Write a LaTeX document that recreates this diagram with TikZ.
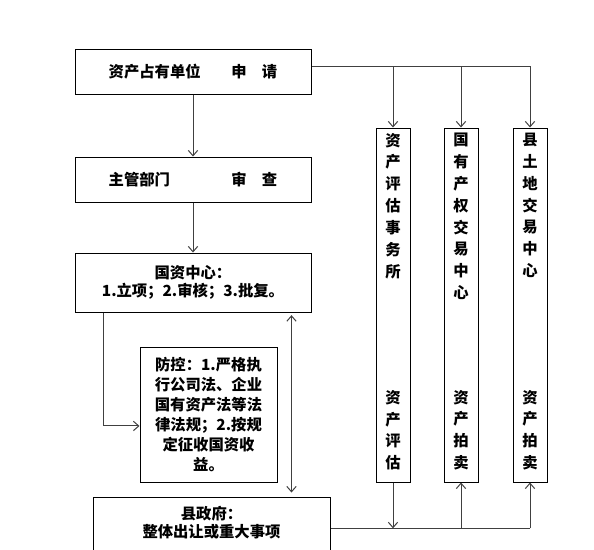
\documentclass[tikz,border=0pt]{standalone}
\usepackage{fontspec}
\newfontfamily\cjk{Noto Sans CJK SC}
\usetikzlibrary{positioning,arrows.meta}
\tikzset{
  flownode/.style = {draw=black, line width=0.75pt, rectangle, inner sep=0pt,
    align=center, font=\cjk\bfseries\fontsize{11.5}{13.5}\selectfont},
  wbox/.style = {flownode, minimum width=177pt, minimum height=33.75pt},% wide step box
  vbox/.style = {flownode, minimum width=25.5pt, minimum height=265.5pt},% tall agency box
  vtext/.style = {align=center, inner sep=0pt,
    font=\cjk\bfseries\fontsize{11.5}{16.4}\selectfont},% text set upright, one char per line
  link/.style = {draw=black!75, line width=0.75pt}
}

\begin{document}
\begin{tikzpicture}[x=0.75pt,y=-0.75pt,>={Straight Barb[length=4pt,width=7pt]}]
    \clip (0,0) rectangle (594,550);
    % left column
    \node [wbox] (apply) at (193,71.5) {资产占有单位　　申　请};
    \node [wbox] (dept) at (193,179.5) {主管部门　　　　审　查};
    \node [wbox, minimum height=44.25pt, font=\cjk\bfseries\fontsize{11.5}{13.5}\selectfont] (center) at (193,282.5)
        {国资中心：\\1.立项；2.审核；3.批复。};
    \node [flownode, minimum width=102.75pt, minimum height=101.25pt,
        font=\cjk\bfseries\fontsize{11.5}{15}\selectfont] (control) at (208.5,414.5)
        {防控：1.严格执\\行公司法、企业\\国有资产法等法\\律法规；2.按规\\定征收国资收\\益。};
    \node [flownode, minimum width=177.75pt, minimum height=51pt, text depth=14pt] (gov) at (211.5,531)
        {县政府：\\整体出让或重大事项};
    % right column
    \node [vbox] (assess) at (393,305) {};
    \node [vbox] (equity) at (461,305) {};
    \node [vbox] (land) at (530,305) {};
    \node [vtext, below=4pt of assess.north] (assesstop) {资\\产\\评\\估\\事\\务\\所};
    \node [vtext, below=4pt of equity.north] (equitytop) {国\\有\\产\\权\\交\\易\\中\\心};
    \node [vtext, below=4pt of land.north] (landtop) {县\\土\\地\\交\\易\\中\\心};
    \node [vtext, above=9pt of assess.south] (assessbot) {资\\产\\评\\估};
    \node [vtext, above=9pt of equity.south] (equitybot) {资\\产\\拍\\卖};
    \node [vtext, above=9pt of land.south] (landbot) {资\\产\\拍\\卖};
    % connectors
    \draw [link,->] (apply) -- (dept);
    \draw [link,->] (dept) -- (center);
    \coordinate (top) at ([yshift=4pt]apply.east);
    \draw [link] (top) -- (top -| land.north);
    \foreach \n in {assess,equity,land}
        \draw [link,->] (top -| \n.north) -- (\n.north);
    \draw [link,->] ([xshift=21.75pt]center.south west) |- ([yshift=-8.6pt]control.west);
    \draw [link,<->,shorten <=2pt,shorten >=3pt] ([xshift=10.5pt]control.east |- center.south)
        -- ([xshift=10.5pt]control.east |- gov.north);
    \coordinate (bot) at ([yshift=2pt]gov.east);
    \draw [link] (bot) -- (bot -| land.south);
    \draw [link,->] (assess.south) -- (assess.south |- bot);
    \draw [link,->] (bot -| equity.south) -- (equity.south);
    \draw [link,->] (bot -| land.south) -- (land.south);
\end{tikzpicture}
\end{document}
